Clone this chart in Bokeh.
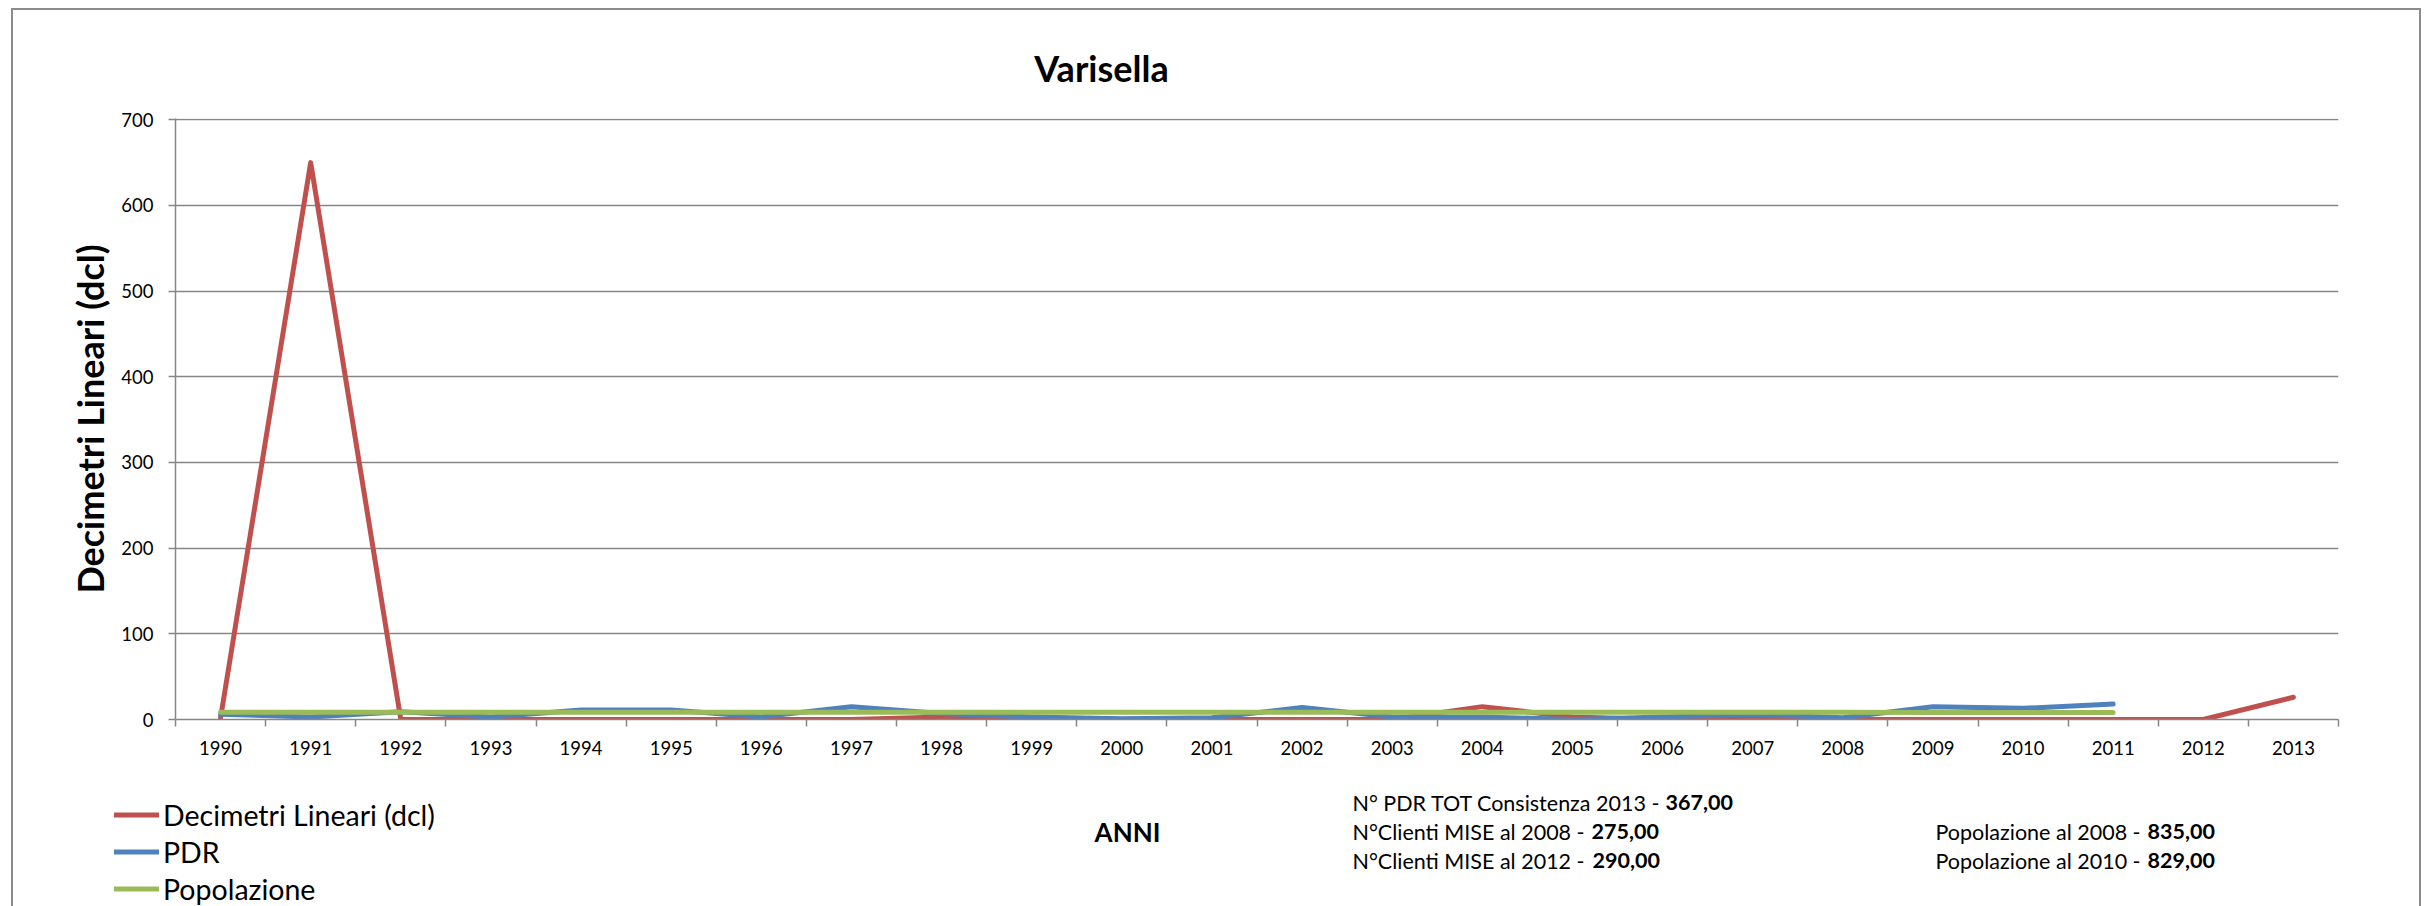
from bokeh.plotting import figure
from bokeh.models import Range1d, FixedTicker, Label, Legend, LegendItem
from bokeh.layouts import column
from bokeh.embed import file_html
from bokeh.resources import INLINE

# ---------------- data ----------------
years = ["1990", "1991", "1992", "1993", "1994", "1995", "1996", "1997", "1998", "1999",
         "2000", "2001", "2002", "2003", "2004", "2005", "2006", "2007", "2008", "2009",
         "2010", "2011", "2012", "2013"]
decimetri = [2, 650, 0, 0, 0, 0, 0, 0, 3, 2, 0, 0, 0, 0, 15, 3, 0, 0, 0, 0, 0, 0, 0, 26]
pdr = [6, 3, 9, 3, 11, 11, 3, 15, 7, 3, 1, 2, 14, 3, 3, 0, 3, 6, 2, 15, 13, 18]
popolazione = [8.5, 8.5, 8.5, 8.5, 8.5, 8.4, 8.4, 8.4, 8.4, 8.4, 8.4, 8.4,
               8.4, 8.4, 8.4, 8.4, 8.4, 8.4, 8.35, 8.3, 8.29, 8.3]
y_ticks = [0, 100, 200, 300, 400, 500, 600, 700]

title_text = "Varisella"
y_title = "Decimetri Lineari (dcl)"
x_title = "ANNI"
series_names = ["Decimetri Lineari (dcl)", "PDR", "Popolazione"]
info_left = [("N° PDR TOT Consistenza 2013 -", "367,00"),
             ("N°Clienti MISE al 2008 -", "275,00"),
             ("N°Clienti MISE al 2012 -", "290,00")]
info_right = [("Popolazione al 2008 -", "835,00"),
              ("Popolazione al 2010 -", "829,00")]

# ---------------- style ----------------
FONT = "Lato"
RED, BLUE, GREEN = "#C0504D", "#4F81BD", "#9BBB59"
GRAY = "#868686"
LW = 5
W = 2431
HA, HB, HC = 100, 690, 116          # heights of title strip, chart, bottom strip
TOP_B = HA                           # page y of chart figure
TOP_C = HA + HB                      # page y of bottom figure


def no_align(f):
    try:
        f.frame_align = False
    except AttributeError:
        pass
    return f


def strip(h):
    f = figure(width=W, height=h, x_range=Range1d(0, W), y_range=Range1d(h, 0),
               x_axis_location=None, y_axis_location=None, output_backend="svg",
               toolbar_location=None, min_border=0)
    f.outline_line_color = None
    f.grid.visible = False
    f.background_fill_alpha = 0
    f.border_fill_alpha = 0
    return no_align(f)

# ---------------- title strip ----------------
pa = strip(HA)
pa.add_layout(Label(x=1101, y=67, text=title_text, text_font=FONT, text_font_style="bold",
                    text_font_size="36px", text_align="center", text_baseline="middle",
                    text_color="black"))

# ---------------- chart ----------------
n = len(years)
xs = [i + 0.5 for i in range(n)]
p = figure(width=W, height=HB, x_range=Range1d(0, n), y_range=Range1d(0, 701.5),
           output_backend="svg", toolbar_location=None,
           min_border_left=175, min_border_right=W - 2338,
           min_border_top=18, min_border_bottom=HB - (719 - TOP_B))
no_align(p)
p.outline_line_color = None
p.background_fill_color = "white"
p.border_fill_alpha = 0

p.xaxis.ticker = FixedTicker(ticks=xs, minor_ticks=list(range(0, n + 1)))
p.xaxis.major_label_overrides = {x: y for x, y in zip(xs, years)}
p.xaxis.major_tick_line_color = None
p.xaxis.major_tick_out = 7
p.xaxis.major_tick_in = 0
p.xaxis.minor_tick_line_color = GRAY
p.xaxis.minor_tick_line_width = 1.5
p.xaxis.minor_tick_out = 7
p.xaxis.minor_tick_in = 0
p.xaxis.axis_line_color = GRAY
p.xaxis.axis_line_width = 1.5
p.xaxis.major_label_text_font = FONT
p.xaxis.major_label_text_font_size = "18.5px"
p.xaxis.major_label_text_color = "black"
p.xaxis.major_label_standoff = 14

p.yaxis.ticker = FixedTicker(ticks=y_ticks)
p.yaxis.minor_tick_line_color = None
p.yaxis.major_tick_in = 0
p.yaxis.major_tick_out = 7
p.yaxis.major_tick_line_color = GRAY
p.yaxis.major_tick_line_width = 1.5
p.yaxis.axis_line_color = GRAY
p.yaxis.axis_line_width = 1.5
p.yaxis.major_label_text_font = FONT
p.yaxis.major_label_text_font_size = "18.5px"
p.yaxis.major_label_text_color = "black"
p.yaxis.major_label_standoff = 15
p.yaxis.axis_label = y_title
p.yaxis.axis_label_text_font = FONT
p.yaxis.axis_label_text_font_style = "bold"
p.yaxis.axis_label_text_font_size = "36px"
p.yaxis.axis_label_text_color = "black"
p.yaxis.axis_label_standoff = 6

p.xgrid.grid_line_color = None
p.ygrid.ticker = FixedTicker(ticks=y_ticks)
p.ygrid.grid_line_color = GRAY
p.ygrid.grid_line_width = 1.3

style = dict(line_width=LW, line_cap="round", line_join="round")
p.line(xs, decimetri, line_color=RED, **style)
p.line(xs[:len(pdr)], pdr, line_color=BLUE, **style)
p.line(xs[:len(popolazione)], popolazione, line_color=GREEN, **style)

# ---------------- bottom strip: legend + notes ----------------
pc = strip(HC)
nan = float("nan")
k1 = pc.line([nan], [nan], line_color=RED, **style)
k2 = pc.line([nan], [nan], line_color=BLUE, **style)
k3 = pc.line([nan], [nan], line_color=GREEN, **style)
ROW = 37
legend = Legend(items=[LegendItem(label=series_names[0], renderers=[k1]),
                       LegendItem(label=series_names[1], renderers=[k2]),
                       LegendItem(label=series_names[2], renderers=[k3])],
                location=(114, HC - (796 - TOP_C) - 3 * ROW), orientation="vertical",
                border_line_color=None, background_fill_alpha=0,
                padding=0, margin=0, spacing=0,
                glyph_width=45, glyph_height=ROW, label_height=ROW, label_standoff=4,
                label_text_font=FONT, label_text_font_size="28.5px", label_text_color="black")
pc.add_layout(legend)

pc.add_layout(Label(x=1127, y=831 - TOP_C, text=x_title, text_font=FONT, text_font_style="bold",
                    text_font_size="26px", text_align="center", text_baseline="middle",
                    text_color="black"))

left_rows = [802, 831, 860]
bold_x_left = [1665, 1591, 1592]
for (txt, val), yy, xb in zip(info_left, left_rows, bold_x_left):
    pc.add_layout(Label(x=1352, y=yy - TOP_C, text=txt, text_font=FONT, text_font_size="21.5px",
                        text_align="left", text_baseline="middle", text_color="black"))
    pc.add_layout(Label(x=xb, y=yy - TOP_C, text=val, text_font=FONT, text_font_style="bold",
                        text_font_size="21.5px", text_align="left", text_baseline="middle",
                        text_color="black"))
right_rows = [831, 860]
for (txt, val), yy in zip(info_right, right_rows):
    pc.add_layout(Label(x=1935, y=yy - TOP_C, text=txt, text_font=FONT, text_font_size="21.5px",
                        text_align="left", text_baseline="middle", text_color="black"))
    pc.add_layout(Label(x=2147, y=yy - TOP_C, text=val, text_font=FONT, text_font_style="bold",
                        text_font_size="21.5px", text_align="left", text_baseline="middle",
                        text_color="black"))

# outer chart-area border (left, top and right edges) drawn as CSS background lines
g = "linear-gradient(#8c8c8c,#8c8c8c)"
border_css = (f"{g} left 11px top 8px / 2px calc(100% - 8px) no-repeat, "
              f"{g} right 10px top 8px / 2px calc(100% - 8px) no-repeat, "
              f"{g} left 11px top 8px / calc(100% - 21px) 2px no-repeat, white")

layout = column(pa, p, pc, spacing=0, styles={"background": border_css})

open("out.html", "w").write(file_html(layout, INLINE))
